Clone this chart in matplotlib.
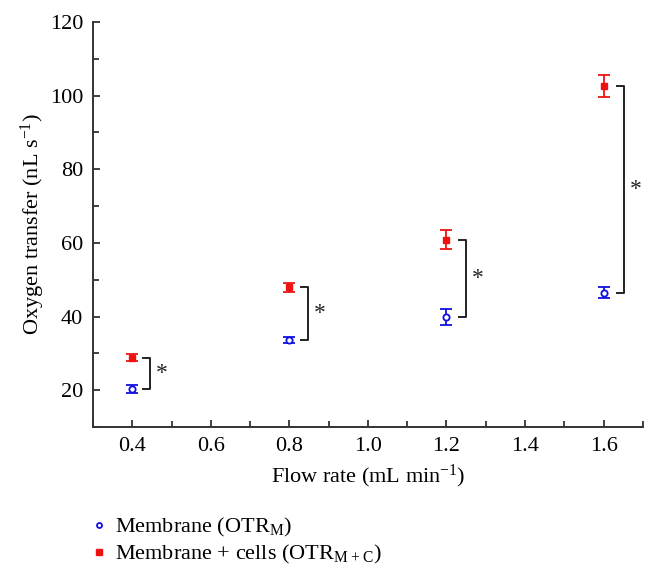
import matplotlib
matplotlib.use("Agg")
import matplotlib.pyplot as plt
from matplotlib.ticker import MultipleLocator

plt.rcParams["font.family"] = ["Liberation Serif", "DejaVu Serif"]

# data
flow = [0.4, 0.8, 1.2, 1.6]
otr_m = [20.3, 33.5, 39.8, 46.5]
otr_m_err = [1.0, 0.8, 2.2, 1.4]
otr_mc = [28.8, 47.9, 60.9, 102.6]
otr_mc_err = [0.9, 1.2, 2.5, 2.9]

fig = plt.figure(figsize=(6.58, 5.77), dpi=100)
ax = fig.add_axes([0.1413, 0.26, 0.8357, 0.702])

m = ax.errorbar(flow, otr_m, yerr=otr_m_err, fmt="o", color="#1010e0",
                mfc="white", mec="#1010e0", ms=4.5, mew=1.3,
                elinewidth=1.3, capsize=4, capthick=1.3)
mc = ax.errorbar(flow, otr_mc, yerr=otr_mc_err, fmt="s", color="#ee1111",
                 ms=5, elinewidth=1.3, capsize=4, capthick=1.3)

# significance brackets
for x, lo, hi in zip(flow, otr_m, otr_mc):
    xv = x + 0.045 + (x - 0.4) * 0.006
    ax.plot([xv - 0.017, xv, xv, xv - 0.017], [lo, lo, hi, hi],
            color="#222222", lw=1.4)
    ax.text(xv + 0.014, (lo + hi) / 2, "*", fontsize=17,
            ha="left", va="center", color="#222222")

ax.set_xlim(0.3, 1.7)
ax.set_ylim(10, 120)
ax.xaxis.set_minor_locator(MultipleLocator(0.1))
ax.yaxis.set_minor_locator(MultipleLocator(10))
ax.set_xticks([0.4, 0.6, 0.8, 1.0, 1.2, 1.4, 1.6])
ax.set_yticks([20, 40, 60, 80, 100, 120])

for s in ["top", "right"]:
    ax.spines[s].set_visible(False)
for s in ["left", "bottom"]:
    ax.spines[s].set_linewidth(1.4)
    ax.spines[s].set_color("#333333")
ax.tick_params(which="both", direction="in", width=1.3, color="#333333",
               labelsize=16, pad=7)
ax.tick_params(which="major", length=5)
ax.tick_params(which="minor", length=4)

ax.set_xlabel(r"Flow rate (mL min$\mathregular{^{-1}}$)", fontsize=16, labelpad=5)
ax.set_ylabel(r"Oxygen transfer (nL s$\mathregular{^{-1}}$)", fontsize=16, labelpad=2)

fig.legend([m[0], mc[0]],
           [r"Membrane (OTR$\mathregular{_M}$)",
            r"Membrane + cells (OTR$\mathregular{_{M+C}}$)"],
           loc="upper left", bbox_to_anchor=(0.142, 0.106), frameon=False,
           borderpad=0, borderaxespad=0,
           fontsize=16, handlelength=0.5, handletextpad=0.45,
           labelspacing=0.2, markerscale=0.8)

fig.savefig("out.png", dpi=100)
